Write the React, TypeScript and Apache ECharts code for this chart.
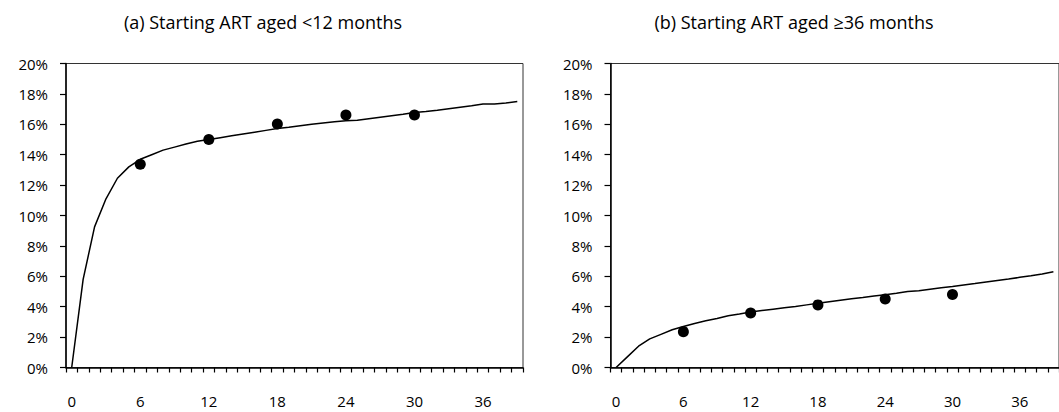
import React, { useEffect, useRef } from "react";
import * as echarts from "echarts";

const months: string[] = Array.from({ length: 40 }, (_, i) => String(i));
const yTicks = { min: 0, max: 20, interval: 2 };

const titleA = "(a) Starting ART aged <12 months";
const titleB = "(b) Starting ART aged \u226536 months";

const lineA: number[] = [
  0, 5.8, 9.25, 11.1, 12.45, 13.2, 13.7, 14.0, 14.3, 14.5,
  14.7, 14.88, 15.0, 15.12, 15.24, 15.36, 15.48, 15.6, 15.72, 15.8,
  15.9, 16.0, 16.08, 16.16, 16.24, 16.26, 16.36, 16.46, 16.56, 16.66,
  16.78, 16.84, 16.92, 17.02, 17.12, 17.22, 17.33, 17.33, 17.4, 17.5,
];
const lineB: number[] = [
  0, 0.7, 1.4, 1.88, 2.18, 2.48, 2.7, 2.9, 3.07, 3.22,
  3.4, 3.52, 3.65, 3.75, 3.84, 3.93, 4.02, 4.12, 4.22, 4.32,
  4.42, 4.52, 4.6, 4.7, 4.78, 4.88, 5.0, 5.05, 5.15, 5.25,
  5.33, 5.43, 5.52, 5.62, 5.72, 5.82, 5.93, 6.03, 6.15, 6.3,
];
const dotMonths: string[] = ["6", "12", "18", "24", "30"];
const dotsA: number[] = [13.37, 15.0, 16.02, 16.61, 16.61];
const dotsB: number[] = [2.36, 3.58, 4.12, 4.5, 4.8];

const FONT = "'Open Sans', 'Roboto', sans-serif";

export default function App() {
  const ref = useRef<HTMLDivElement>(null);
  useEffect(() => {
    document.body.style.margin = "0";
    if (!ref.current) return;
    const chart = echarts.init(ref.current, null, { renderer: "svg" });
    const xAxisBase = (gridIndex: number) => ({
      type: "category" as const,
      gridIndex,
      data: months,
      boundaryGap: true,
      axisLine: { show: true, lineStyle: { color: "#000", width: 1.5 } },
      axisTick: { show: true, interval: 0, length: 5, lineStyle: { color: "#000", width: 1.2 } },
      axisLabel: {
        interval: 5,
        margin: 26,
        color: "#000",
        fontSize: 15,
        fontFamily: FONT,
      },
      splitLine: { show: false },
    });
    const yAxisBase = (gridIndex: number) => ({
      type: "value" as const,
      gridIndex,
      min: yTicks.min,
      max: yTicks.max,
      interval: yTicks.interval,
      axisLine: { show: true, lineStyle: { color: "#000", width: 1.5 } },
      axisTick: { show: true, length: 6, lineStyle: { color: "#000", width: 1.2 } },
      axisLabel: {
        margin: 18,
        color: "#000",
        fontSize: 15,
        fontFamily: FONT,
        formatter: (v: number) => `${v}%`,
      },
      splitLine: { show: false },
    });
    chart.setOption({
      animation: false,
      backgroundColor: "#fff",
      graphic: [
        {
          type: "text",
          x: 263,
          y: 22,
          style: {
            text: titleA,
            fill: "#000",
            fontSize: 18,
            fontFamily: FONT,
            textAlign: "center",
            textVerticalAlign: "middle",
          },
        },
        {
          type: "text",
          x: 794,
          y: 22,
          style: {
            text: titleB,
            fill: "#000",
            fontSize: 18,
            fontFamily: FONT,
            textAlign: "center",
            textVerticalAlign: "middle",
          },
        },
      ],
      grid: [
        { left: 66, top: 63.5, width: 457, height: 304, show: true, borderColor: "#333", borderWidth: 1, backgroundColor: "transparent" },
        { left: 610.5, top: 63.5, width: 458, height: 304, show: true, borderColor: "#333", borderWidth: 1, backgroundColor: "transparent" },
      ],
      xAxis: [xAxisBase(0), xAxisBase(1)],
      yAxis: [yAxisBase(0), yAxisBase(1)],
      series: [
        {
          type: "line",
          xAxisIndex: 0,
          yAxisIndex: 0,
          data: lineA,
          symbol: "none",
          lineStyle: { color: "#000", width: 1.5 },
        },
        {
          type: "scatter",
          xAxisIndex: 0,
          yAxisIndex: 0,
          data: dotMonths.map((m, i) => [m, dotsA[i]]),
          symbol: "circle",
          symbolSize: 11,
          itemStyle: { color: "#000", opacity: 1 },
        },
        {
          type: "line",
          xAxisIndex: 1,
          yAxisIndex: 1,
          data: lineB,
          symbol: "none",
          lineStyle: { color: "#000", width: 1.5 },
        },
        {
          type: "scatter",
          xAxisIndex: 1,
          yAxisIndex: 1,
          data: dotMonths.map((m, i) => [m, dotsB[i]]),
          symbol: "circle",
          symbolSize: 11,
          itemStyle: { color: "#000", opacity: 1 },
        },
      ],
    });
    return () => chart.dispose();
  }, []);
  return <div ref={ref} style={{ width: 1059, height: 412 }} />;
}
